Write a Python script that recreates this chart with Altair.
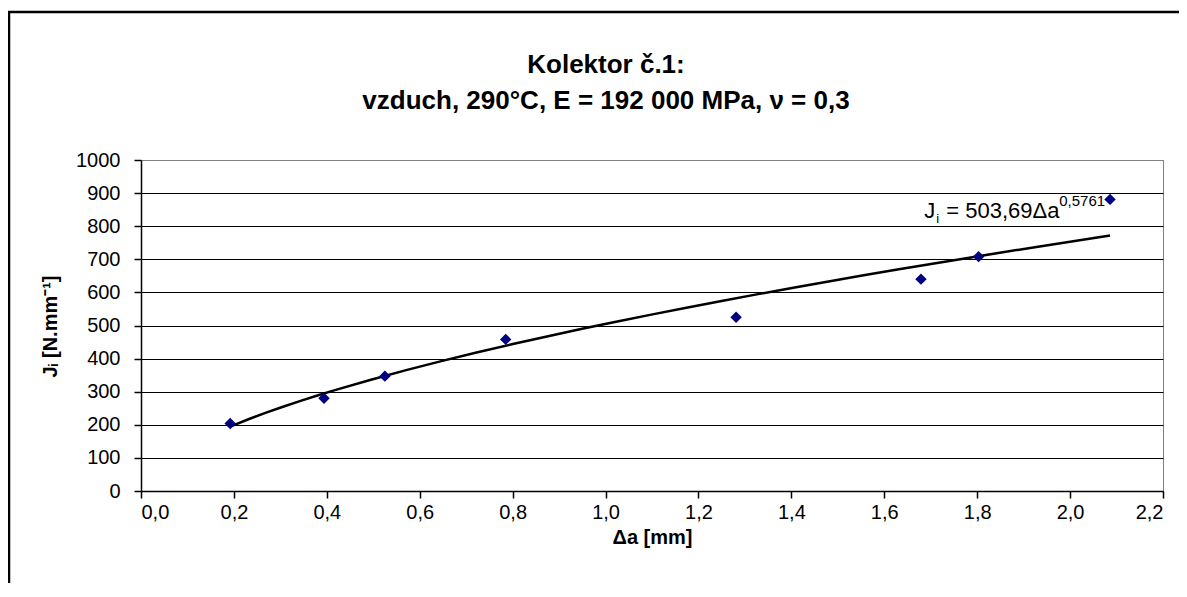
import altair as alt
import pandas as pd

# ---- data ----
delta_a = [0.192, 0.394, 0.525, 0.785, 1.281, 1.679, 1.803, 2.086]
J_i = [204, 280, 347, 458, 525, 640, 708, 881]
x_ticks = [0.0, 0.2, 0.4, 0.6, 0.8, 1.0, 1.2, 1.4, 1.6, 1.8, 2.0, 2.2]
y_ticks = [0, 100, 200, 300, 400, 500, 600, 700, 800, 900, 1000]
title_lines = ["Kolektor č.1:", "vzduch, 290°C, E = 192 000 MPa, ν = 0,3"]
x_title = "Δa [mm]"
y_title = "Jᵢ [N.mm⁻¹]"
eq_main = "J"
eq_sub = "i"
eq_rest = "= 503,69Δa"
eq_sup = "0,5761"
eq_at_da = 1.686
eq_at_J = 825

FONT = "Liberation Sans"

df = pd.DataFrame({"da": delta_a, "J": J_i})
one = pd.DataFrame({"k": [0]})

x_scale = alt.Scale(domain=[0, 2.2], nice=False, zero=False)
y_scale = alt.Scale(domain=[0, 1000], nice=False)

x_axis = alt.Axis(
    values=x_ticks,
    labelExpr="replace(format(datum.value, '.1f'), '.', ',')",
    grid=False,
    tickSize=7,
    labelPadding=4,
    labelOverlap=False,
    titleX=511,
    titleY=46,
    titleBaseline="middle",
    titleAlign="center",
)
y_axis = alt.Axis(
    values=y_ticks,
    format="d",
    grid=True,
    gridColor=alt.condition(alt.datum.value == 1000, alt.value("#808080"), alt.value("black")),
    tickSize=7,
    labelPadding=14,
    labelOverlap=False,
    titleX=-91,
    titleY=166,
    titleAngle=-90,
    titleBaseline="middle",
    titleAlign="center",
)

x_enc = alt.X("da:Q", title=x_title, scale=x_scale, axis=x_axis)
y_enc = alt.Y("J:Q", title=y_title, scale=y_scale, axis=y_axis)

frame = alt.Chart(one).mark_rect(
    fillOpacity=0, stroke="black", strokeWidth=2.5
).encode(
    x=alt.value(-132), x2=alt.value(1070), y=alt.value(-148), y2=alt.value(460)
)

trend = alt.Chart(df).transform_regression(
    "da", "J", method="pow"
).mark_line(color="black", strokeWidth=2.5).encode(x=x_enc, y=y_enc)

points = alt.Chart(df).mark_point(
    shape="diamond", filled=True, size=130, color="#000080", opacity=1
).encode(x=x_enc, y=y_enc)

def eq_text(txt, size, dx, dy):
    return alt.Chart(one).mark_text(
        font=FONT, fontSize=size, align="left", baseline="alphabetic",
        dx=dx, dy=dy, color="black"
    ).encode(
        x=alt.XDatum(eq_at_da, type="quantitative", title=x_title, scale=x_scale, axis=x_axis),
        y=alt.YDatum(eq_at_J, type="quantitative", title=y_title, scale=y_scale, axis=y_axis),
        text=alt.value(txt),
    )

eq1 = eq_text(eq_main, 22, 0, 0)
eq2 = eq_text(eq_sub, 13, 12, 5)
eq3 = eq_text(eq_rest, 22, 22, 0)
eq4 = eq_text(eq_sup, 15, 135, -12)

def title_text(txt, ypix):
    return alt.Chart(one).mark_text(
        font=FONT, fontSize=26, fontWeight="bold", align="center",
        baseline="alphabetic", color="black"
    ).encode(x=alt.value(465), y=alt.value(ypix), text=alt.value(txt))

t1 = title_text(title_lines[0], -87)
t2 = title_text(title_lines[1], -51)

chart = alt.layer(frame, trend, points, eq1, eq2, eq3, eq4, t1, t2).properties(
    width=1022,
    height=331,
    autosize=alt.AutoSizeParams(type="none"),
    padding={"left": 133, "top": 152, "right": 16, "bottom": 92},
    background="white",
).configure_view(
    stroke="#808080", strokeWidth=1
).configure_axis(
    labelFont=FONT,
    labelFontSize=20,
    labelColor="black",
    titleFont=FONT,
    titleFontSize=20,
    titleFontWeight="bold",
    titleColor="black",
    domainColor="black",
    domainWidth=1.5,
    tickColor="black",
    tickWidth=1.5,
    gridWidth=1,
)

chart.save("out.html", embed_options={"renderer": "svg", "actions": False})
